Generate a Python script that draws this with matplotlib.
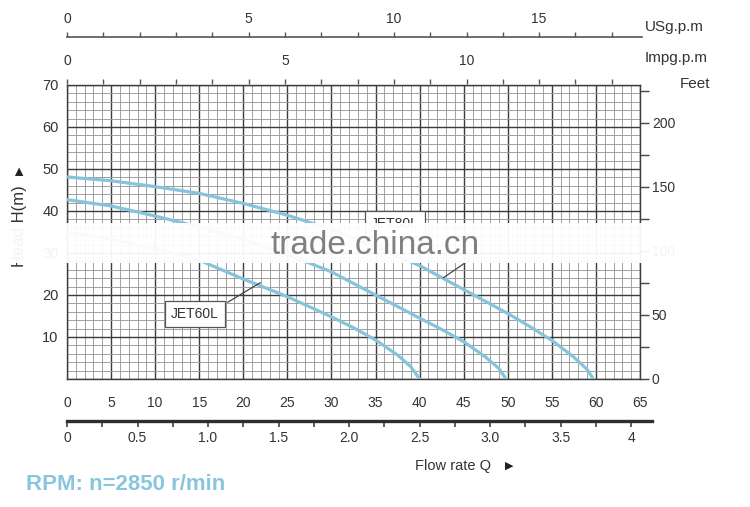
import numpy as np
import matplotlib
matplotlib.use('Agg')
import matplotlib.pyplot as plt
from matplotlib.patches import Rectangle

plt.rcParams['font.family'] = ['Liberation Sans', 'DejaVu Sans']

# pump curves, flow Q in l/min, head H in m
jet60_q = [0, 5, 10, 15, 20, 25, 30, 32.5, 35, 37.5, 39, 40]
jet60_h = [35.0, 33.3, 31.0, 28.3, 23.8, 19.6, 14.8, 12.2, 9.3, 5.7, 2.9, 0]
jet70_q = [0, 5, 10, 15, 20, 25, 30, 35, 40, 42.5, 45, 47.5, 49, 49.8]
jet70_h = [42.7, 41.2, 38.8, 36.2, 33.2, 29.7, 25.5, 20.0, 14.5, 11.8, 8.9, 5.2, 2.5, 0]
jet80_q = [0, 5, 10, 15, 20, 25, 30, 35, 40, 45, 50, 52.5, 55, 57.5, 59, 59.7]
jet80_h = [48.1, 47.2, 45.8, 44.2, 41.8, 39.0, 35.6, 31.5, 27.0, 21.3, 15.6, 12.5, 9.2, 5.2, 2.3, 0]

# axis scales as printed on the chart
lpm_ticks = list(range(0, 70, 5))
head_labels = ['', '10', '20', '30', '40', '50', '60', '70']
feet_major = [0, 50, 100, 150, 200]
feet_minor = [25, 75, 125, 175, 225]
m3h_major = [0, 0.5, 1.0, 1.5, 2.0, 2.5, 3.0, 3.5, 4]
m3h_labels = ['0', '0.5', '1.0', '1.5', '2.0', '2.5', '3.0', '3.5', '4']
m3h_minor = [0.25, 0.75, 1.25, 1.75, 2.25, 2.75, 3.25, 3.75]
m3h_to_lpm = 16.0          # spacing as drawn on the chart
gpm_step_lpm = 4.12        # spacing of the gallon ticks as drawn
n_gpm_ticks = 16
usg_labels = {0: '0', 5: '5', 9: '10', 13: '15'}
imp_labels = {0: '0', 6: '5', 11: '10'}

curve_col = '#86c4dc'
txt_col = '#333333'
W, H = 750., 507.


def fx(px):
    return px / W


def fy(py):
    return 1 - py / H


fig = plt.figure(figsize=(7.5, 5.07), dpi=100)

# main grid
ax = fig.add_axes([fx(67), fy(379), 573 / W, 294 / H])
ax.set_xlim(0, 65)
ax.set_ylim(0, 70)
ax.set_xticks(lpm_ticks)
ax.set_xticklabels([str(v) for v in lpm_ticks])
ax.set_xticks(np.arange(0, 66, 1), minor=True)
ax.set_yticks(np.arange(0, 71, 10))
ax.set_yticklabels(head_labels)
ax.set_yticks(np.arange(0, 71, 2), minor=True)
ax.grid(which='minor', color='#999999', lw=0.65)
ax.grid(which='major', color='#3c3c3c', lw=1.0)
ax.set_axisbelow(True)
ax.tick_params(which='both', length=0)
ax.tick_params(axis='x', pad=12, labelsize=10, labelcolor=txt_col)
ax.tick_params(axis='y', pad=6, labelsize=10.5, labelcolor=txt_col)
for s in ax.spines.values():
    s.set_color('#3c3c3c')
    s.set_linewidth(1.0)

ax.plot(jet60_q, jet60_h, color=curve_col, lw=2.3, zorder=3)
ax.plot(jet70_q, jet70_h, color=curve_col, lw=2.3, zorder=3)
ax.plot(jet80_q, jet80_h, color=curve_col, lw=2.3, zorder=3)

box = dict(boxstyle='square,pad=0.45', fc='white', ec='#555555', lw=0.9)
ax.text(14.5, 15.5, 'JET60L', ha='center', va='center', fontsize=10,
        color=txt_col, bbox=box, zorder=5)
ax.plot([18.25, 21.9], [18.3, 22.9], color='#444444', lw=0.9, zorder=4)
ax.text(37.2, 36.9, 'JET80L', ha='center', va='center', fontsize=10,
        color=txt_col, bbox=box, zorder=5)
ax.plot([45.6, 42.7], [28.3, 24.1], color='#444444', lw=0.9, zorder=4)

# feet scale on the right
axf = ax.twinx()
axf.set_ylim(0, 70 * 3.28084)
axf.set_yticks(feet_major)
axf.set_yticklabels([str(v) for v in feet_major])
axf.set_yticks(feet_minor, minor=True)
axf.tick_params(which='both', direction='out', length=6.5, width=1,
                color='#444444', pad=2, labelsize=10, labelcolor=txt_col)
for s in axf.spines.values():
    s.set_visible(False)

# gallon scales on top
gpm_pos = [k * gpm_step_lpm for k in range(n_gpm_ticks)]

axu = fig.add_axes([fx(67), fy(37), 575 / W, 0.0001])
axu.set_xlim(0, 65 * 575 / 573)
axu.set_yticks([])
for k, s in axu.spines.items():
    s.set_visible(k == 'top')
axu.spines['top'].set_color('#555555')
axu.spines['top'].set_linewidth(1.2)
axu.xaxis.set_ticks_position('top')
axu.set_xticks(gpm_pos)
axu.set_xticklabels([usg_labels.get(k, '') for k in range(n_gpm_ticks)])
axu.tick_params(axis='x', direction='out', length=3.6, width=1, color='#555555',
                pad=4.5, labelsize=10, labelcolor=txt_col)

axi = fig.add_axes([fx(67), fy(84), 573 / W, 0.0001])
axi.set_xlim(0, 65)
axi.set_yticks([])
for s in axi.spines.values():
    s.set_visible(False)
axi.xaxis.set_ticks_position('top')
axi.set_xticks(gpm_pos)
axi.set_xticklabels([imp_labels.get(k, '') for k in range(n_gpm_ticks)])
axi.tick_params(axis='x', direction='out', length=3.6, width=1, color='#555555',
                pad=8, labelsize=10, labelcolor=txt_col)

# m3/h scale at the bottom
axb = fig.add_axes([fx(67), fy(421), 585 / W, 0.0001])
axb.set_xlim(0, 65 * 585 / 573)
axb.set_yticks([])
for k, s in axb.spines.items():
    s.set_visible(k == 'bottom')
axb.spines['bottom'].set_color('#2e2e2e')
axb.spines['bottom'].set_linewidth(2.4)
axb.set_xticks([v * m3h_to_lpm for v in m3h_major])
axb.set_xticklabels(m3h_labels)
axb.set_xticks([v * m3h_to_lpm for v in m3h_minor], minor=True)
axb.tick_params(which='both', axis='x', direction='out', length=4.3, width=1.1,
                color='#333333', pad=3, labelsize=10, labelcolor=txt_col)

# axis names
fig.text(fx(645), fy(27), 'USg.p.m', ha='left', va='center', fontsize=11, color=txt_col)
fig.text(fx(645), fy(58), 'Impg.p.m', ha='left', va='center', fontsize=11, color=txt_col)
fig.text(fx(680), fy(84), 'Feet', ha='left', va='center', fontsize=11, color=txt_col)
fig.text(fx(415), fy(466), 'Flow rate Q', ha='left', va='center', fontsize=10.5, color=txt_col)
fig.text(fx(509), fy(466), '\u25B6', ha='center', va='center', fontsize=8,
         color='#222222', family='DejaVu Sans')
fig.text(fx(20), fy(267), 'Head H(m)', ha='center', va='bottom', rotation=90,
         fontsize=12, color=txt_col)
fig.text(fx(20), fy(171), '\u25B6', ha='center', va='center', rotation=90,
         fontsize=8, color='#222222', family='DejaVu Sans')
fig.text(fx(26), fy(484), 'RPM: n=2850 r/min', ha='left', va='center', fontsize=16,
         fontweight='bold', color='#8ac5de')

# watermark band
fig.add_artist(Rectangle((0, fy(263)), fx(700), 40 / H, transform=fig.transFigure,
                         fc='white', ec='none', alpha=0.95, zorder=10))
fig.text(fx(375), fy(245), 'trade.china.cn', ha='center', va='center', fontsize=24,
         color='#808080', zorder=11)

fig.savefig('out.png', dpi=100)
